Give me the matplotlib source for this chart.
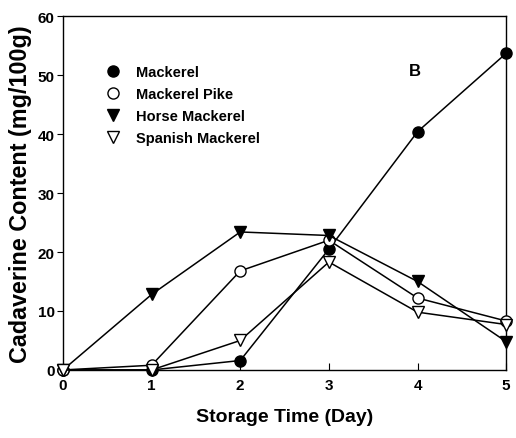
import matplotlib
matplotlib.use("Agg")
import matplotlib.pyplot as plt
from matplotlib.lines import Line2D

plt.rcParams["font.family"] = ["Liberation Sans", "DejaVu Sans"]
plt.rcParams["font.weight"] = "bold"

days = [0, 1, 2, 3, 4, 5]
mackerel = [0, 0, 1.6, 20.5, 40.4, 53.7]
mackerel_pike = [0, 0.8, 16.8, 22.0, 12.2, 8.3]
horse_mackerel = [0, 12.8, 23.4, 22.8, 15.0, 4.8]
spanish_mackerel = [0, 0, 5.0, 18.3, 9.8, 7.7]

series = [
    ("Mackerel", mackerel, "o", "black"),
    ("Mackerel Pike", mackerel_pike, "o", "white"),
    ("Horse Mackerel", horse_mackerel, "v", "black"),
    ("Spanish Mackerel", spanish_mackerel, "v", "white"),
]

fig = plt.figure(figsize=(5.16, 4.39), dpi=100)
ax = fig.add_axes([0.122, 0.155, 0.859, 0.806])

handles = []
for name, vals, mk, fc in series:
    ax.plot(days, vals, color="black", lw=1.1, marker=mk, ms=8,
            mfc=fc, mec="black", mew=1.0, clip_on=False, zorder=3)
    handles.append(Line2D([], [], ls="none", marker=mk, ms=8, mfc=fc,
                          mec="black", mew=1.0, label=name))

ax.set_xlim(0, 5)
ax.set_ylim(0, 60)
ax.set_xticks(days)
ax.set_yticks(range(0, 61, 10))
ax.tick_params(axis="x", direction="in", length=5, labelsize=11, pad=6)
ax.tick_params(axis="y", direction="out", length=4, labelsize=11, pad=2)
for lab in ax.get_xticklabels() + ax.get_yticklabels():
    lab.set_fontweight("bold")
for s in ax.spines.values():
    s.set_linewidth(1.0)

ax.set_xlabel("Storage Time (Day)", fontsize=14, fontweight="bold", labelpad=11)
ax.set_ylabel("Cadaverine Content (mg/100g)", fontsize=16.8, fontweight="bold", labelpad=4)

ax.text(0.795, 0.845, "B", transform=ax.transAxes, fontsize=12,
        fontweight="bold", ha="center", va="center")

ax.legend(handles=handles, loc="upper left", bbox_to_anchor=(0.05, 0.90),
          frameon=False, handletextpad=0.6, labelspacing=0.55,
          prop={"weight": "bold", "size": 10.5})

fig.savefig("out.png", dpi=100)
